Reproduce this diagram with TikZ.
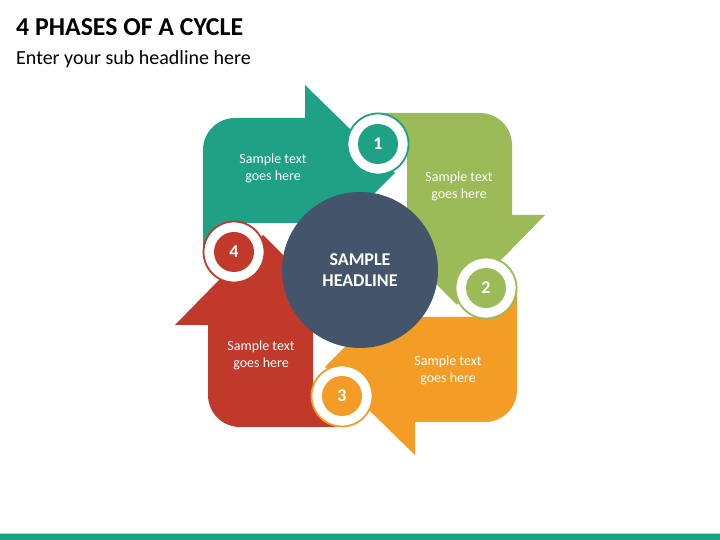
\documentclass[tikz,border=0pt]{standalone}
\usepackage{fontspec}
\setmainfont{Carlito}
\definecolor{phaseOne}{HTML}{1FA185}
\definecolor{phaseTwo}{HTML}{9BBB59}
\definecolor{phaseThree}{HTML}{F39C26}
\definecolor{phaseFour}{HTML}{C0392B}
\definecolor{phaseHub}{HTML}{44546A}
\tikzset{
    phasering/.style={circle, fill=white, draw=#1, line width=1.8pt, minimum size=61pt, inner sep=0pt},
    phasenum/.style={circle, fill=#1, text=white, minimum size=40pt, inner sep=0pt, font=\fontsize{18}{18}\selectfont\bfseries},
    phasetext/.style={text=white, align=center, inner sep=0pt, font=\fontsize{14}{17}\selectfont}
}

\begin{document}
\begin{tikzpicture}[x=1pt, y=1pt]
            \useasboundingbox (0,0) rectangle (720,540);
            % four arrows, one shape turned round the hub
            \foreach \ang/\col in {90/phaseOne, 0/phaseTwo, -90/phaseThree, 180/phaseFour}
                \fill[\col, shift={(360,270)}, rotate=\ang]
                    (16,157) -- (120,157) arc[start angle=90, end angle=0, radius=32]
                    -- (152,55) -- (185,55) -- (97,-35) -- (7,55) -- (47,55)
                    -- (47,126) -- (16,126) -- cycle;
            \node[phasetext] (txtOne) at (273,372) {Sample text\\goes here};
            \node[phasetext] (txtTwo) at (459,354) {Sample text\\goes here};
            \node[phasetext] (txtThree) at (448,170) {Sample text\\goes here};
            \node[phasetext] (txtFour) at (261,185) {Sample text\\goes here};
            \node[circle, fill=phaseHub, minimum size=156pt, inner sep=0pt, text=white, align=center,
                font=\fontsize{18}{21}\selectfont\bfseries] (hub) at (360,270) {SAMPLE\\HEADLINE};
            \node[phasering=phaseOne] (ringOne) at (378,396) {};
            \node[phasering=phaseTwo] (ringTwo) at (486,252) {};
            \node[phasering=phaseThree] (ringThree) at (342,144) {};
            \node[phasering=phaseFour] (ringFour) at (234,288) {};
            \node[phasenum=phaseOne] (numOne) at (ringOne) {1};
            \node[phasenum=phaseTwo] (numTwo) at (ringTwo) {2};
            \node[phasenum=phaseThree] (numThree) at (ringThree) {3};
            \node[phasenum=phaseFour] (numFour) at (ringFour) {4};
            \node[anchor=base west, inner sep=0pt, font=\fontsize{25.8}{30}\selectfont\bfseries] (title) at (16,504) {4 PHASES OF A CYCLE};
            \node[anchor=base west, inner sep=0pt, font=\fontsize{20}{24}\selectfont] (subtitle) at (16,475) {Enter your sub headline here};
            \fill[phaseOne] (0,0) rectangle (720,5.5);
            \fill[phaseOne!40] (0,5.5) rectangle (720,6.5);
        \end{tikzpicture}
\end{document}
